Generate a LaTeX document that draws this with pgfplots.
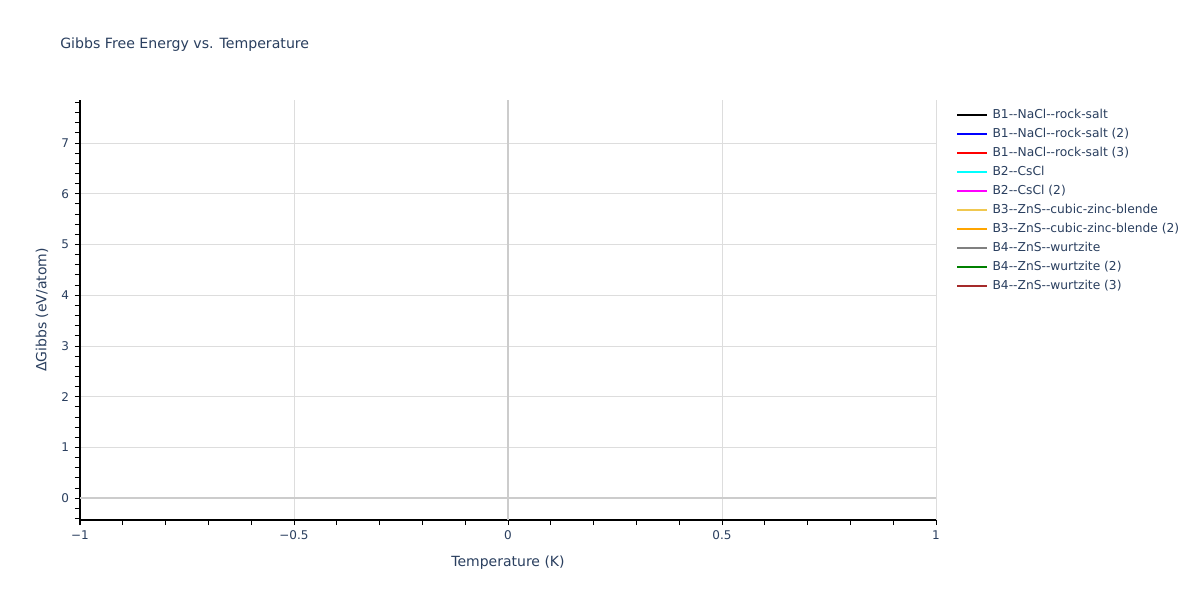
\documentclass[border=0pt]{standalone}
\usepackage{fontspec}
\setmainfont{DejaVu Sans}
\usepackage{pgfplots}
\pgfplotsset{compat=1.18}

\definecolor{plytext}{HTML}{2A3F5F}
\definecolor{plygrid}{HTML}{DDDDDD}
\definecolor{plyzero}{HTML}{CCCCCC}
\definecolor{ser1}{HTML}{000000}
\definecolor{ser2}{HTML}{0000FF}
\definecolor{ser3}{HTML}{FF0000}
\definecolor{ser4}{HTML}{00FFFF}
\definecolor{ser5}{HTML}{FF00FF}
\definecolor{ser6}{HTML}{F0C850}
\definecolor{ser7}{HTML}{FFA500}
\definecolor{ser8}{HTML}{808080}
\definecolor{ser9}{HTML}{008000}
\definecolor{ser10}{HTML}{A52A2A}

\begin{document}
\begin{tikzpicture}
% page frame: 1200 x 600 px at 0.75pt per px
\path[fill=white] (0pt,0pt) rectangle (900pt,450pt);
\node[anchor=west, inner sep=0pt, text=plytext, font=\fontsize{10.6pt}{13pt}\selectfont] at (45pt,416.25pt) {Gibbs Free Energy vs. Temperature};
\begin{axis}[
    at={(60pt,60pt)}, anchor=south west,
    width=642pt, height=315pt, scale only axis,
    xmin=-1, xmax=1, ymin=-0.43, ymax=7.85,
    axis line style={black, line width=0.75pt},
    axis x line*=bottom, axis y line*=left,
    tick align=outside,
    major tick length=3.75pt, minor tick length=3.75pt,
    tick style={black, line width=0.75pt},
    xtick={-1,-0.5,0,0.5,1},
    xticklabels={−1,−0.5,0,0.5,1},
    minor xtick={-0.9,-0.8,-0.7,-0.6,-0.4,-0.3,-0.2,-0.1,0.1,0.2,0.3,0.4,0.6,0.7,0.8,0.9},
    ytick={0,1,...,7},
    yticklabels={0,1,2,3,4,5,6,7},
    minor ytick={-0.4,-0.2,0.2,0.4,0.6,0.8,1.2,1.4,1.6,1.8,2.2,2.4,2.6,2.8,3.2,3.4,3.6,3.8,4.2,4.4,4.6,4.8,5.2,5.4,5.6,5.8,6.2,6.4,6.6,6.8,7.2,7.4,7.6,7.8},
    xmajorgrids, ymajorgrids,
    major grid style={plygrid, line width=0.75pt},
    ticklabel style={text=plytext, font=\fontsize{9pt}{11pt}\selectfont},
    xticklabel style={yshift=-1pt},
    yticklabel style={xshift=-1pt},
    xlabel={Temperature (K)},
    ylabel={ΔGibbs (eV/atom)},
    label style={text=plytext, font=\fontsize{10.5pt}{12pt}\selectfont},
    xlabel style={at={(axis description cs:0.5,0)}, anchor=center, yshift=-32.25pt},
    ylabel style={at={(axis description cs:0,0.5)}, anchor=center, yshift=28.5pt},
    legend style={at={(axis description cs:1,1)}, anchor=north west,
        xshift=12pt, yshift=-4.75pt, draw=none, fill=none,
        row sep=5.25pt,
        nodes={inner sep=0pt, text height=7pt, text depth=2pt, text=plytext,
               font=\fontsize{9.2pt}{11pt}\selectfont}},
    legend cell align=left,
    legend image code/.code={\draw[#1, line width=1.5pt] (0pt,0pt) -- (22.5pt,0pt); \path (26.25pt,0pt);},
    legend columns=1,
]
% zero lines
\addplot[plyzero, line width=1.5pt, forget plot] coordinates {(-1,0) (1,0)};
\addplot[plyzero, line width=1.5pt, forget plot] coordinates {(0,-0.43) (0,7.85)};
% series: none of them has a point that draws inside the plotted range
\addlegendimage{ser1}\addlegendentry{B1-{}-NaCl-{}-rock-salt}
\addlegendimage{ser2}\addlegendentry{B1-{}-NaCl-{}-rock-salt (2)}
\addlegendimage{ser3}\addlegendentry{B1-{}-NaCl-{}-rock-salt (3)}
\addlegendimage{ser4}\addlegendentry{B2-{}-CsCl}
\addlegendimage{ser5}\addlegendentry{B2-{}-CsCl (2)}
\addlegendimage{ser6}\addlegendentry{B3-{}-ZnS-{}-cubic-zinc-blende}
\addlegendimage{ser7}\addlegendentry{B3-{}-ZnS-{}-cubic-zinc-blende (2)}
\addlegendimage{ser8}\addlegendentry{B4-{}-ZnS-{}-wurtzite}
\addlegendimage{ser9}\addlegendentry{B4-{}-ZnS-{}-wurtzite (2)}
\addlegendimage{ser10}\addlegendentry{B4-{}-ZnS-{}-wurtzite (3)}
\end{axis}
\end{tikzpicture}
\end{document}
